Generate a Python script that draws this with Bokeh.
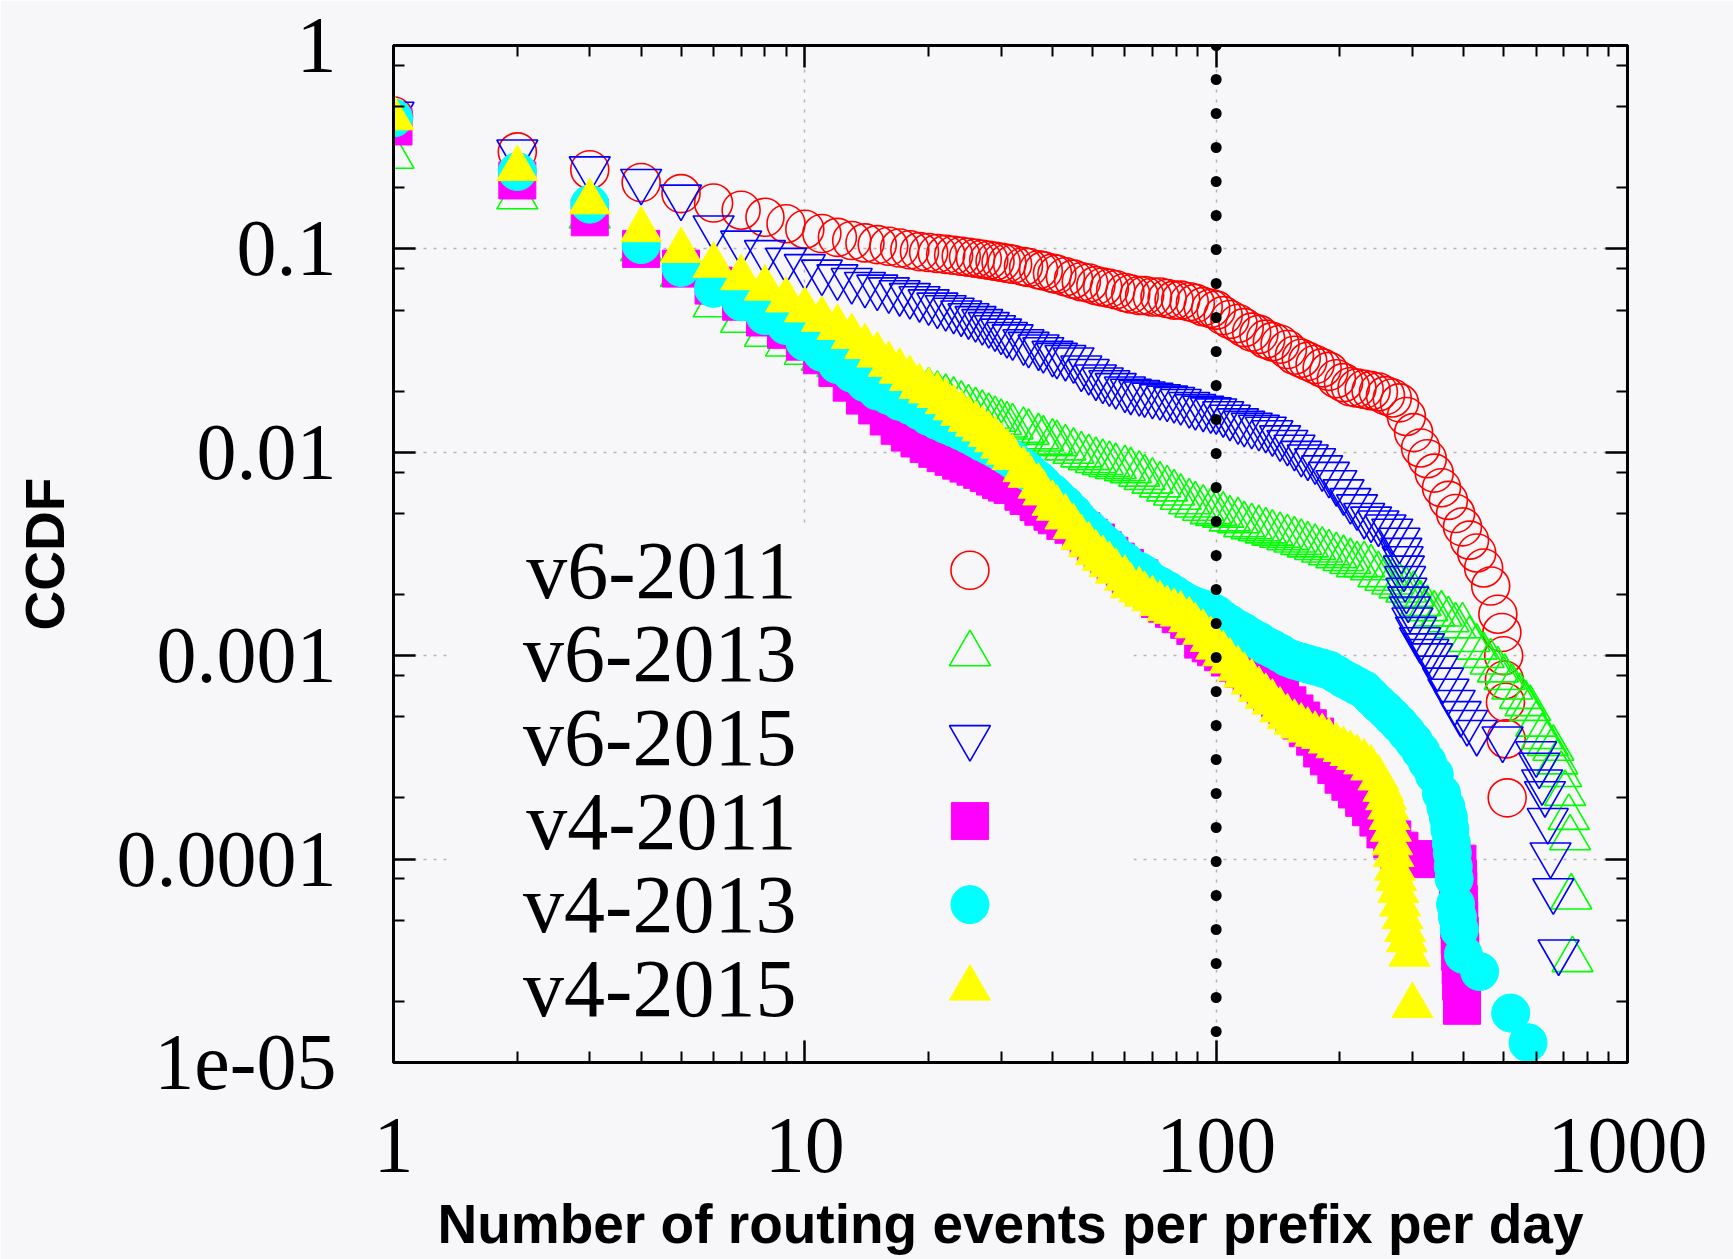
from bokeh.plotting import figure
from bokeh.models import FixedTicker, LogAxis, Span
from bokeh.embed import file_html
from bokeh.resources import INLINE
from bokeh.core.properties import value

BG = "#f7f7f9"

# ---------------- data ----------------
# x values shared by the dense part of every curve
x_grid = [1, 2, 3, 4, 5, 6, 7, 8, 9, 10, 11, 12, 13, 14, 15, 16, 17, 18, 19,
          20, 21, 22, 23, 24, 25, 26, 27, 28, 29, 30, 31, 32,
          34, 35, 37, 38, 40, 41, 43, 45, 47, 49,
          51, 53, 55, 57, 60, 62, 65, 67, 70, 73,
          76, 79, 82, 86, 89, 93, 97, 100, 104, 108,
          113, 117, 122, 127, 132, 137, 143, 149, 155, 161,
          167, 174, 181, 188, 196, 204, 212, 220, 229, 238,
          248, 258, 268, 279, 290, 302, 314, 326, 339, 353,
          367, 382, 397, 413, 430, 447, 465, 484, 503]

v6_2011_y = [0.45, 0.30, 0.245, 0.212, 0.187, 0.168, 0.155, 0.143, 0.133, 0.125,
             0.119, 0.114, 0.110, 0.107, 0.105, 0.103, 0.101, 0.099, 0.097,
             0.096, 0.095, 0.094, 0.093, 0.092, 0.091, 0.090, 0.089, 0.088, 0.087, 0.086, 0.085, 0.084,
             0.082, 0.081, 0.079, 0.078, 0.076, 0.075, 0.073, 0.071, 0.069, 0.068,
             0.066, 0.065, 0.064, 0.063, 0.061, 0.060, 0.059, 0.059, 0.058, 0.058,
             0.057, 0.056, 0.056, 0.055, 0.054, 0.052, 0.051, 0.050, 0.047, 0.045,
             0.043, 0.041, 0.039, 0.038, 0.036, 0.035, 0.034, 0.032, 0.030, 0.029,
             0.028, 0.027, 0.026, 0.025, 0.023, 0.022, 0.021, 0.0207, 0.0204, 0.0201,
             0.0198, 0.019, 0.0185, 0.0175, 0.015, 0.0125, 0.0105, 0.0093, 0.0079, 0.0067,
             0.0058, 0.0050, 0.0043, 0.0037, 0.0032, 0.0027, 0.0022, 0.0016]
v6_2011_tail_x = [495, 500, 502, 505, 507, 510]
v6_2011_tail_y = [0.0013, 0.0010, 7.6e-4, 5.9e-4, 3.9e-4, 2.0e-4]

v6_2013_y = [0.285, 0.18, 0.145, 0.10, 0.075, 0.053, 0.0445, 0.038, 0.034, 0.031,
             0.029, 0.027, 0.026, 0.025, 0.024, 0.023, 0.022, 0.021, 0.0205,
             0.0200, 0.0192, 0.0186, 0.0180, 0.0172, 0.0165, 0.0160, 0.0155, 0.0150, 0.0145, 0.0140, 0.0136, 0.0133,
             0.0128, 0.0125, 0.0119, 0.0116, 0.0112, 0.0110, 0.0105, 0.0101, 0.0097, 0.0094,
             0.0091, 0.0089, 0.0087, 0.0085, 0.0083, 0.0081, 0.0078, 0.0075, 0.0072, 0.0069,
             0.0066, 0.0063, 0.0060, 0.0057, 0.0055, 0.0053, 0.0051, 0.0050, 0.0049, 0.0047,
             0.0046, 0.0044, 0.0043, 0.0042, 0.0041, 0.0040, 0.0039, 0.0038, 0.0037, 0.0036,
             0.0035, 0.0034, 0.0033, 0.0032, 0.0031, 0.0030, 0.0029, 0.0028, 0.0028, 0.0027,
             0.0025, 0.0024, 0.0023, 0.0022, 0.0021, 0.0020, 0.0018, 0.0017, 0.0016, 0.0016,
             0.0015, 0.0014, 0.0014, 0.0012, 0.0011, 0.0010, 9.3e-4, 8.5e-4, 7.8e-4]
v6_2013_tail_x = [525, 548, 565, 580, 600, 620, 640, 660, 675, 690, 705, 720, 725, 730, 735]
v6_2013_tail_y = [7.0e-4, 6.3e-4, 5.8e-4, 5.5e-4, 4.6e-4, 4.0e-4, 3.7e-4, 3.5e-4, 3.0e-4, 2.6e-4,
                  2.1e-4, 1.6e-4, 1.27e-4, 6.5e-5, 3.2e-5]

v6_2015_y = [0.46, 0.30, 0.248, 0.215, 0.18, 0.127, 0.107, 0.096, 0.088, 0.082,
             0.077, 0.073, 0.070, 0.067, 0.065, 0.063, 0.061, 0.059, 0.057,
             0.055, 0.053, 0.0515, 0.050, 0.0485, 0.047, 0.0455, 0.044, 0.0425, 0.041, 0.0395, 0.038, 0.037,
             0.035, 0.034, 0.033, 0.032, 0.0307, 0.030, 0.0293, 0.0285, 0.026, 0.025,
             0.0235, 0.0227, 0.022, 0.0213, 0.0205, 0.020, 0.0197, 0.0194, 0.0191, 0.0188,
             0.0185, 0.0182, 0.0178, 0.0172, 0.0168, 0.0165, 0.0162, 0.0160, 0.0155, 0.0149,
             0.0143, 0.0139, 0.0136, 0.0133, 0.0130, 0.0125, 0.0118, 0.0112, 0.0106, 0.0099,
             0.0095, 0.0091, 0.0084, 0.0078, 0.0071, 0.0064, 0.0058, 0.0054, 0.0049, 0.0047,
             0.0045, 0.0043, 0.0041, 0.0037]
v6_2015_tail_x = [282, 284, 286, 288, 290, 293, 296, 300, 306, 313, 320, 328, 335, 345, 356, 367,
                  380, 393, 407, 430, 497, 600, 610, 620, 630, 640, 650, 660, 680]
v6_2015_tail_y = [0.0033, 0.0030, 0.0027, 0.0024, 0.0021, 0.0019, 0.0017, 0.0015, 0.00135, 0.0012,
                  0.00112, 0.00105, 0.0010, 8.7e-4, 7.6e-4, 6.7e-4, 5.9e-4, 5.2e-4, 4.7e-4, 4.2e-4,
                  3.9e-4, 3.3e-4, 2.9e-4, 2.4e-4, 2.1e-4, 1.55e-4, 1.05e-4, 7.0e-5, 3.5e-5]

v4_2011_y = [0.40, 0.217, 0.143, 0.10, 0.080, 0.066, 0.055, 0.046, 0.040, 0.035,
             0.030, 0.026, 0.022, 0.019, 0.017, 0.015, 0.0135, 0.0125, 0.0117,
             0.0110, 0.0104, 0.0099, 0.0095, 0.0091, 0.0088, 0.0085, 0.0082, 0.0079, 0.0076, 0.0073, 0.0071, 0.0069,
             0.0064, 0.0061, 0.0057, 0.0054, 0.0051, 0.0049, 0.0046, 0.0044, 0.0041, 0.0038,
             0.0036, 0.0033, 0.0031, 0.0029, 0.0027, 0.0025, 0.0024, 0.0022, 0.0021, 0.0019,
             0.0018, 0.0017, 0.0016, 0.0015, 0.0014, 0.0012, 0.00115, 0.0011, 0.00104, 0.00098,
             9.2e-4, 8.6e-4, 8.1e-4, 7.6e-4, 7.0e-4, 6.6e-4, 6.2e-4, 5.7e-4, 5.2e-4, 4.8e-4,
             4.4e-4, 4.0e-4, 3.5e-4, 3.2e-4, 2.9e-4, 2.6e-4, 2.4e-4, 2.2e-4, 2.0e-4, 1.8e-4,
             1.6e-4, 1.4e-4, 1.25e-4, 1.1e-4]
v4_2011_tail_x = [326, 386, 387, 388, 389, 390, 391, 392, 393, 394, 396]
v4_2011_tail_y = [1.0e-4, 9.5e-5, 8.0e-5, 7.0e-5, 6.0e-5, 5.0e-5, 4.2e-5, 3.5e-5, 3.0e-5, 2.5e-5, 1.9e-5]

v4_2013_y = [0.44, 0.24, 0.166, 0.105, 0.081, 0.064, 0.055, 0.047, 0.042, 0.035,
             0.031, 0.027, 0.0245, 0.022, 0.020, 0.019, 0.0178, 0.017, 0.016,
             0.0150, 0.0143, 0.0137, 0.0132, 0.0127, 0.0122, 0.0117, 0.0112, 0.0108, 0.0104, 0.0100, 0.0096, 0.0092,
             0.0084, 0.0080, 0.0073, 0.0069, 0.0063, 0.0060, 0.0055, 0.0050, 0.0045, 0.0042,
             0.0039, 0.0036, 0.0034, 0.0031, 0.0029, 0.0027, 0.0026, 0.0025, 0.0023, 0.0022,
             0.0021, 0.0020, 0.0019, 0.0018, 0.00175, 0.0017, 0.00165, 0.0016, 0.0015, 0.00143,
             0.00135, 0.0013, 0.00123, 0.00118, 0.00112, 0.00108, 0.00103, 9.8e-4, 9.5e-4, 9.3e-4,
             9.1e-4, 8.9e-4, 8.7e-4, 8.5e-4, 8.1e-4, 7.7e-4, 7.4e-4, 7.1e-4, 6.8e-4, 6.3e-4,
             5.8e-4, 5.4e-4, 5.0e-4, 4.6e-4, 4.2e-4, 3.8e-4, 3.4e-4, 3.0e-4, 2.6e-4, 2.1e-4]
v4_2013_tail_x = [362, 367, 370, 373, 375, 377, 379, 382, 386, 390, 399, 437, 520, 573]
v4_2013_tail_y = [1.8e-4, 1.6e-4, 1.4e-4, 1.2e-4, 1.07e-4, 9.2e-5, 8.0e-5, 6.0e-5, 5.2e-5, 4.5e-5,
                  3.4e-5, 2.8e-5, 1.75e-5, 1.25e-5]

v4_2015_y = [0.44, 0.248, 0.17, 0.124, 0.098, 0.083, 0.072, 0.064, 0.056, 0.050,
             0.045, 0.041, 0.037, 0.033, 0.030, 0.027, 0.025, 0.023, 0.021,
             0.0200, 0.0190, 0.0177, 0.0165, 0.0155, 0.0145, 0.0137, 0.0130, 0.0122, 0.0115, 0.0107, 0.0100, 0.0094,
             0.0082, 0.0077, 0.0068, 0.0063, 0.0056, 0.0053, 0.0048, 0.0043, 0.0038, 0.0035,
             0.0032, 0.0030, 0.0028, 0.0026, 0.0024, 0.0022, 0.0021, 0.0020, 0.0019, 0.0018,
             0.0017, 0.00165, 0.0016, 0.0015, 0.0014, 0.0013, 0.0012, 0.0011, 0.00102, 9.4e-4,
             8.6e-4, 8.0e-4, 7.4e-4, 6.8e-4, 6.3e-4, 5.9e-4, 5.4e-4, 5.0e-4, 4.7e-4, 4.5e-4,
             4.3e-4, 4.1e-4, 4.0e-4, 3.8e-4, 3.6e-4, 3.45e-4, 3.3e-4, 3.15e-4, 3.0e-4, 2.8e-4,
             2.5e-4]
v4_2015_tail_x = [255, 259, 262, 264, 266, 268, 270, 272, 274, 277, 280, 284, 288, 291, 295, 300]
v4_2015_tail_y = [2.2e-4, 2.0e-4, 1.8e-4, 1.6e-4, 1.4e-4, 1.2e-4, 1.05e-4, 9.0e-5, 8.0e-5, 7.0e-5,
                  6.0e-5, 5.2e-5, 4.5e-5, 4.0e-5, 3.4e-5, 1.9e-5]

series_labels = ["v6-2011", "v6-2013", "v6-2015", "v4-2011", "v4-2013", "v4-2015"]

x_tick_values = [1, 10, 100, 1000]
x_tick_labels = ["1", "10", "100", "1000"]
y_tick_values = [1e-05, 0.0001, 0.001, 0.01, 0.1, 1]
y_tick_labels = ["1e-05", "0.0001", "0.001", "0.01", "0.1", "1"]
reference_x = 100


def curve(body_y, tail_x, tail_y):
    return list(x_grid[:len(body_y)]) + list(tail_x), list(body_y) + list(tail_y)


DATA = [curve(v6_2011_y, v6_2011_tail_x, v6_2011_tail_y),
        curve(v6_2013_y, v6_2013_tail_x, v6_2013_tail_y),
        curve(v6_2015_y, v6_2015_tail_x, v6_2015_tail_y),
        curve(v4_2011_y, v4_2011_tail_x, v4_2011_tail_y),
        curve(v4_2013_y, v4_2013_tail_x, v4_2013_tail_y),
        curve(v4_2015_y, v4_2015_tail_x, v4_2015_tail_y)]

# ---------------- styles ----------------
STYLES = [
    dict(marker="circle", size=38, color="#ff0000", filled=False),
    dict(marker="triangle", size=41, color="#00ff00", filled=False),
    dict(marker="inverted_triangle", size=41, color="#0000ff", filled=False),
    dict(marker="square", size=37, color="#ff00ff", filled=True),
    dict(marker="circle", size=38, color="#00ffff", filled=True),
    dict(marker="triangle", size=41, color="#ffff00", filled=True),
]

SERIF = "Liberation Serif"
SANS = "Liberation Sans"
TICK_FONT = "80px"

p = figure(width=1733, height=1259, x_axis_type="log", y_axis_type="log",
           x_range=(1, 1000), y_range=(1e-5, 1),
           output_backend="svg", toolbar_location=None,
           min_border_left=393, min_border_right=106, min_border_top=45, min_border_bottom=197)
p.background_fill_color = BG
p.border_fill_color = BG
p.outline_line_color = "black"
p.outline_line_width = 3

x_minor = [m * 10 ** k for k in range(0, 3) for m in range(2, 10)]
y_minor = [m * 10.0 ** k for k in range(-5, 0) for m in (2, 5, 8)]


def style_axis(ax, ticks, minor, labels, show_labels):
    ax.ticker = FixedTicker(ticks=ticks, minor_ticks=minor)
    ax.axis_line_color = "black"
    ax.axis_line_width = 3
    ax.major_tick_in = 22
    ax.major_tick_out = 0
    ax.minor_tick_in = 11
    ax.minor_tick_out = 0
    ax.major_tick_line_width = 2.5
    ax.minor_tick_line_width = 2
    ax.major_tick_line_color = "black"
    ax.minor_tick_line_color = "black"
    if show_labels:
        ax.major_label_overrides = {t: l for t, l in zip(ticks, labels)}
        ax.major_label_text_font = SERIF
        ax.major_label_text_font_size = TICK_FONT
        ax.major_label_text_color = "black"
    else:
        ax.major_label_overrides = {t: "" for t in ticks}
        ax.major_label_text_font_size = "8px"
        ax.major_label_standoff = 0


xa = p.xaxis[0]
ya = p.yaxis[0]
style_axis(xa, x_tick_values, x_minor, x_tick_labels, True)
style_axis(ya, y_tick_values, y_minor, y_tick_labels, True)
xa.major_label_standoff = 56
ya.major_label_standoff = 57

xa.axis_label = "Number of routing events per prefix per day"
ya.axis_label = "CCDF"
for ax in (xa, ya):
    ax.axis_label_text_font = SANS
    ax.axis_label_text_font_style = "bold"
    ax.axis_label_text_font_size = "55px"
    ax.axis_label_text_color = "black"
xa.axis_label_standoff = 18
ya.axis_label_standoff = 38

top_ax = LogAxis()
right_ax = LogAxis()
style_axis(top_ax, x_tick_values, x_minor, x_tick_labels, False)
style_axis(right_ax, y_tick_values, y_minor, y_tick_labels, False)
p.add_layout(top_ax, "above")
p.add_layout(right_ax, "right")

p.xgrid.ticker = FixedTicker(ticks=[10, 100])
p.ygrid.ticker = FixedTicker(ticks=[0.0001, 0.001, 0.01, 0.1])
for g in (p.xgrid[0], p.ygrid[0]):
    g.grid_line_color = "#b4b4b4"
    g.grid_line_dash = "3 7"
    g.grid_line_width = 1.5

# opaque key area (hides the grid behind the legend, data stays on top)
KEY_LEFT, KEY_RIGHT, KEY_BOTTOM, KEY_TOP = 1.38, 63, 1.3e-5, 4.3e-3
p.quad(left=[KEY_LEFT], right=[KEY_RIGHT], bottom=[KEY_BOTTOM], top=[KEY_TOP],
       fill_color=BG, line_color=None)

for (xs, ys), st in zip(DATA, STYLES):
    if st["filled"]:
        p.scatter(xs, ys, marker=st["marker"], size=st["size"],
                  fill_color=st["color"], line_color=st["color"], line_width=1)
    else:
        p.scatter(xs, ys, marker=st["marker"], size=st["size"],
                  fill_color=None, line_color=st["color"], line_width=1.6)

# reference line at x = 100
p.add_layout(Span(location=reference_x, dimension="height", line_color="black",
                  line_width=11, line_dash="0 34", line_cap="round"))

# key: labels on the left, symbols on the right
KEY_TEXT_X = 9.54
KEY_MARK_X = 25.2
KEY_ROW0 = -2.58
KEY_STEP = 0.411
row_y = [10 ** (KEY_ROW0 - i * KEY_STEP) for i in range(len(series_labels))]
p.text(x=[KEY_TEXT_X] * len(series_labels), y=row_y, text=series_labels,
       text_font=value(SERIF), text_font_size=value("82px"), text_color="black",
       text_align="right", text_baseline="middle")
for yy, st in zip(row_y, STYLES):
    if st["filled"]:
        p.scatter([KEY_MARK_X], [yy], marker=st["marker"], size=st["size"],
                  fill_color=st["color"], line_color=st["color"], line_width=1)
    else:
        p.scatter([KEY_MARK_X], [yy], marker=st["marker"], size=st["size"],
                  fill_color=None, line_color=st["color"], line_width=1.6)

open("out.html", "w").write(file_html(p, INLINE))
